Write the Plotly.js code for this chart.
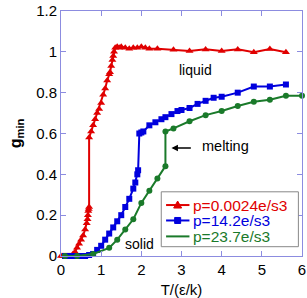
<!DOCTYPE html>
<html>
<head>
<meta charset="utf-8">
<script src="https://cdn.plot.ly/plotly-3.0.1.min.js"></script>
<style>html,body{margin:0;padding:0;background:#fff;}#chart{width:307px;height:298px;}</style>
</head>
<body>
<div id="chart"></div>
<script>
// Series: p = 0.0024 e/s3 (red triangles)
const redT = [0.0,0.05,0.1,0.15,0.2,0.25,0.3,0.35,0.4,0.45,0.5,0.55,0.6,0.64,0.66,0.67,0.68,0.69,0.7,0.7,0.75,0.8,0.85,0.9,0.95,1.0,1.05,1.1,1.15,1.2,1.22,1.25,1.28,1.3,1.32,1.35,1.4,1.45,1.5,1.6,1.7,1.8,1.9,2.0,2.1,2.2,2.4,2.8,3.2,3.6,4.0,4.4,4.8,5.2,5.6];
const redG = [0,0,0,0,0,0,0.01,0.02,0.04,0.06,0.08,0.1,0.13,0.16,0.18,0.2,0.22,0.23,0.24,0.58,0.61,0.64,0.67,0.7,0.72,0.75,0.79,0.82,0.86,0.89,0.9,0.93,0.96,0.98,1.0,1.02,1.025,1.02,1.025,1.02,1.015,1.02,1.02,1.025,1.02,1.015,1.015,1.01,1.004,1.012,1.004,1.012,0.998,1.014,0.998];
// Series: p = 14.2 e/s3 (blue squares)
const blueT = [0.1,0.15,0.2,0.25,0.3,0.35,0.4,0.5,0.6,0.7,0.8,0.9,1.0,1.1,1.2,1.3,1.4,1.5,1.6,1.7,1.8,1.85,1.9,1.92,1.95,2.0,2.05,2.2,2.35,2.5,2.6,2.75,2.9,3.0,3.2,3.4,3.6,3.8,4.0,4.4,4.8,5.2,5.6];
const blueG = [0,0,0,0,0,0,0,0,0,0.005,0.01,0.03,0.05,0.08,0.11,0.14,0.17,0.2,0.24,0.28,0.33,0.36,0.4,0.42,0.6,0.605,0.61,0.64,0.655,0.67,0.68,0.695,0.71,0.715,0.725,0.745,0.76,0.775,0.78,0.8,0.83,0.83,0.84];
// Series: p = 23.7 e/s3 (green circles)
const greenT = [0.1,0.4,0.8,1.2,1.4,1.6,1.8,2.0,2.2,2.4,2.6,2.6,2.8,3.2,3.6,4.0,4.4,4.8,5.2,5.6,6.0];
const greenG = [0,0,0.01,0.04,0.08,0.13,0.18,0.26,0.32,0.38,0.44,0.61,0.625,0.66,0.69,0.71,0.735,0.755,0.765,0.785,0.785];

const xTicks = [0,1,2,3,4,5,6];
const names = ['p=0.0024e/s3','p=14.2e/s3','p=23.7e/s3'];
const colors = ['#e00000','#0000dd','#1a7a2a'];
const symbols = ['triangle-up','square','circle'];
const sizes = [7,6,6];
const xs = [redT, blueT, greenT];
const ys = [redG, blueG, greenG];

const data = xs.map((x,i)=>({
  x: x, y: ys[i], type:'scatter', mode:'lines+markers', cliponaxis:false,
  name: names[i], showlegend:false,
  line:{color:colors[i], width:2},
  marker:{symbol:symbols[i], size:sizes[i], color:colors[i]}
}));

// hand-built legend (paper coordinates)
const legRows = [0.208, 0.145, 0.080];
const shapes = [
  {type:'rect', xref:'paper', yref:'paper', x0:0.416, x1:0.985, y0:0.038, y1:0.262,
   line:{color:'#888', width:1}, fillcolor:'#fff', layer:'above'}
];
const annotations = [];
const glyphPaths = [
  'M-4,-3L4,-3L0,4Z',
  'M-3,-3L3,-3L3,3L-3,3Z',
  'M3,0A3,3 0 1,1 -3,0A3,3 0 1,1 3,0Z'
];
legRows.forEach((yy,i)=>{
  shapes.push({type:'line', xref:'paper', yref:'paper', x0:0.436, x1:0.533, y0:yy, y1:yy,
    line:{color:colors[i], width:2}, layer:'above'});
  shapes.push({type:'path', xref:'paper', yref:'paper', xsizemode:'pixel', ysizemode:'pixel',
    xanchor:0.484, yanchor:yy, path:glyphPaths[i], fillcolor:colors[i], line:{color:colors[i], width:1}, layer:'above'});
  annotations.push({xref:'paper', yref:'paper', x:0.538, y:yy, xanchor:'left', yanchor:'middle',
    text:names[i], showarrow:false, font:{size:15.5, color:colors[i]}});
});

annotations.push(
  {x:3.36, y:0.91, xref:'x', yref:'y', text:'liquid', showarrow:false, font:{size:14}},
  {x:4.09, y:0.54, xref:'x', yref:'y', text:'melting', showarrow:false, font:{size:14.5}},
  {x:1.95, y:0.06, xref:'x', yref:'y', text:'solid', showarrow:false, font:{size:14}},
  {x:2.75, y:0.529, ax:3.27, ay:0.529, xref:'x', yref:'y', axref:'x', ayref:'y', text:'', showarrow:true, arrowhead:2, arrowsize:1, arrowwidth:1.3, arrowcolor:'#000'}
);

const axisCol = '#8c8ce0';
const fontFam = 'Liberation Sans, Arial, sans-serif';
const layout = {
  width:307, height:298,
  margin:{l:61, r:5, t:11, b:42},
  paper_bgcolor:'#fff', plot_bgcolor:'#fff',
  font:{family:fontFam, size:15, color:'#000'},
  showlegend:false,
  xaxis:{range:[0,6], tickmode:'array', tickvals:xTicks, ticktext:xTicks.map(String), showgrid:false, zeroline:false, showline:true, linecolor:axisCol, linewidth:1,
    mirror:'ticks', ticks:'inside', ticklen:5, tickcolor:axisCol, automargin:false,
    title:{text:'T/(ε/k)', font:{size:15}, standoff:12}},
  yaxis:{range:[0,1.2], dtick:0.2, showgrid:false, zeroline:false, showline:true, linecolor:axisCol, linewidth:1,
    mirror:'ticks', ticks:'inside', ticklen:5, tickcolor:axisCol,
    title:{text:'<b>g<sub>min</sub></b>', font:{size:16}, standoff:10}},
  shapes: shapes,
  annotations: annotations
};
Plotly.newPlot('chart', data, layout, {displayModeBar:false, staticPlot:true});
</script>
</body>
</html>
